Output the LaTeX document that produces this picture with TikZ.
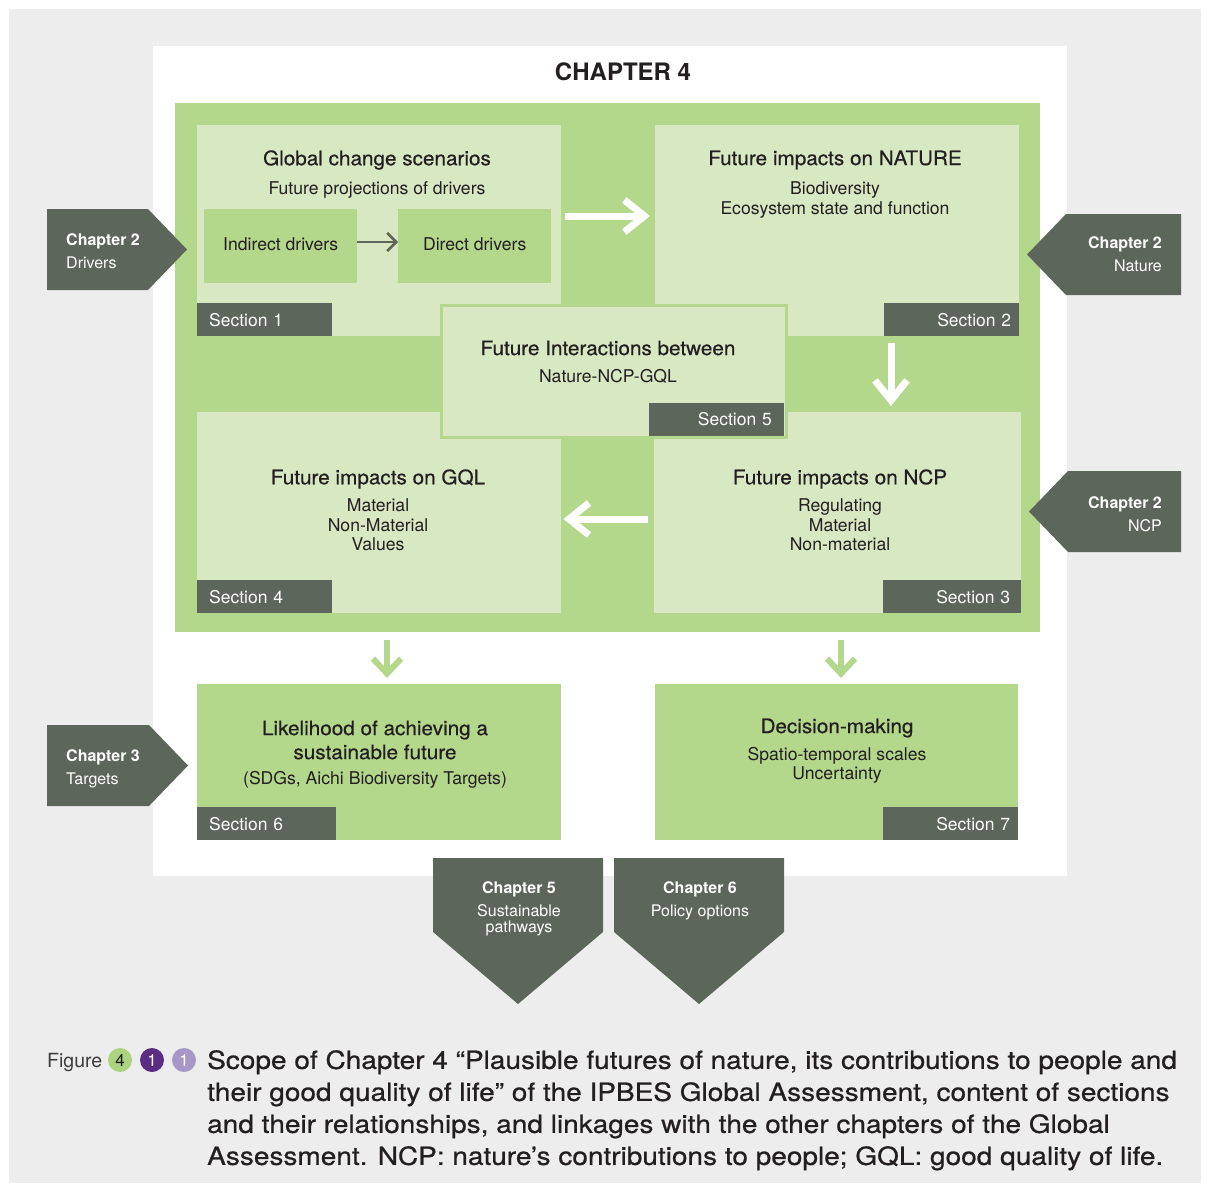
\documentclass[tikz,border=0pt]{standalone}
\usepackage{fontspec}
\setmainfont{TeX Gyre Heros}
\newfontfamily\titlefont[FakeStretch=1.035, FakeBold=0.5]{TeX Gyre Heros}
\newfontfamily\capfont[FakeStretch=1.12, FakeBold=0.7]{TeX Gyre Heros}
\usetikzlibrary{arrows.meta, positioning, calc}
\definecolor{bggray}{RGB}{237,237,237}
\definecolor{midgreen}{RGB}{179,215,139}
\definecolor{lightgreen}{RGB}{216,232,195}
\definecolor{slate}{RGB}{93,102,90}
\definecolor{ink}{RGB}{35,31,32}
\definecolor{figgray}{RGB}{60,60,60}
\definecolor{figgreen}{RGB}{172,212,128}
\definecolor{purpledark}{RGB}{91,44,131}
\definecolor{lavender}{RGB}{167,151,199}
\tikzset{
  secbox/.style={rectangle, fill=lightgreen, inner sep=0pt, anchor=north west},
  outbox/.style={rectangle, fill=midgreen, inner sep=0pt, anchor=north west},
  seclabel/.style={rectangle, fill=slate, text=white, inner sep=0pt,
    minimum height=33pt, font=\fontsize{17.5}{20}\selectfont},
  boxtitle/.style={text=ink, font=\titlefont\fontsize{20}{24}\selectfont, align=center, inner sep=0pt},
  boxtext/.style={text=ink, font=\fontsize{17.6}{19.5}\selectfont, align=center, inner sep=0pt},
  chaptag/.style={fill=slate},
  chaptext/.style={text=white, font=\fontsize{16}{23.5}\selectfont, inner sep=0pt},
  whitearrow/.style={-{Straight Barb[length=20pt,width=32pt]}, white, line width=7pt},
  greenarrow/.style={-{Straight Barb[length=15pt,width=28pt]}, midgreen, line width=6pt},
  smallarrow/.style={-{Straight Barb[length=9pt,width=18pt]}, slate, line width=2.5pt},
  dot/.style={circle, minimum size=24pt, inner sep=0pt, font=\fontsize{17}{20}\selectfont}
}
\begin{document}
\begin{tikzpicture}[x=1pt, y=-1pt]
  % --- page and panels ---
  \fill[white] (0,0) rectangle (1210,1191);
  \useasboundingbox (0,0) rectangle (1210,1191);
  \node[fill=bggray, inner sep=0pt, minimum width=1192pt, minimum height=1174pt, anchor=north west] (bg) at (9,9) {};
  \node[fill=white, inner sep=0pt, minimum width=914pt, minimum height=830pt, anchor=north west] (panel) at (153,46) {};
  \node[text=ink, font=\bfseries\fontsize{24}{26}\selectfont, inner sep=0pt] (chap4) at (623,72) {CHAPTER 4};
  \node[outbox, minimum width=865pt, minimum height=529pt] (main) at (175,103) {};

  % --- section 1 ---
  \node[secbox, minimum width=364pt, minimum height=211pt] (s1) at (197,125) {};
  \node[boxtitle] (s1title) at (377,160) {Global change scenarios};
  \node[boxtext] (s1text) at (377,190) {Future projections of drivers};
  \node[outbox, minimum width=153pt, minimum height=74pt, font=\fontsize{17.6}{20}\selectfont, text=ink] (ind) at (204,209) {\raisebox{4pt}{Indirect drivers}};
  \node[outbox, minimum width=153pt, minimum height=74pt, font=\fontsize{17.6}{20}\selectfont, text=ink] (dir) at (398,209) {\raisebox{4pt}{Direct drivers}};
  \draw[smallarrow] (ind.east |- 0,242) -- (dir.west |- 0,242);
  \node[seclabel, minimum width=135pt, text width=111pt, align=left, anchor=south west] (s1lab) at (s1.south west) {Section 1};

  % --- section 2 ---
  \node[secbox, minimum width=364pt, minimum height=211pt] (s2) at (655,125) {};
  \node[boxtitle] (s2title) at (835,160) {Future impacts on NATURE};
  \node[boxtext] (s2text) at (835,200) {Biodiversity\\Ecosystem state and function};
  \node[seclabel, minimum width=135pt, text width=119pt, align=right, anchor=south east] (s2lab) at (s2.south east) {Section 2};

  % --- section 4 ---
  \node[secbox, minimum width=364pt, minimum height=201pt] (s4) at (197,412) {};
  \node[boxtitle] (s4title) at (378,479) {Future impacts on GQL};
  \node[boxtext] (s4text) at (378,525) {Material\\Non-Material\\Values};
  \node[seclabel, minimum width=135pt, text width=111pt, align=left, anchor=south west] (s4lab) at (s4.south west) {Section 4};

  % --- section 3 ---
  \node[secbox, minimum width=367pt, minimum height=201pt] (s3) at (654,412) {};
  \node[boxtitle] (s3title) at (840,479) {Future impacts on NCP};
  \node[boxtext] (s3text) at (840,525) {Regulating\\Material\\Non-material};
  \node[seclabel, minimum width=138pt, text width=116pt, align=right, anchor=south east] (s3lab) at (s3.south east) {Section 3};

  % --- section 5 (on top) ---
  \node[rectangle, fill=lightgreen, draw=midgreen, line width=2.5pt, inner sep=0pt, minimum width=345pt, minimum height=132pt, anchor=north west] (s5) at (440.25,304.25) {};
  \node[boxtitle] (s5title) at (608,348) {Future Interactions between};
  \node[boxtext] (s5text) at (608,376) {Nature-NCP-GQL};
  \node[seclabel, minimum width=135pt, text width=111pt, align=right, anchor=south east] (s5lab) at (784,436) {Section 5};

  % --- arrows between sections ---
  \draw[whitearrow, shorten <=4pt, shorten >=5pt] (s1.east |- 0,216) -- (s2.west |- 0,216);
  \draw[whitearrow, shorten <=7pt, shorten >=6pt] (s2.south -| 891,0) -- (s3.north -| 891,0);
  \draw[whitearrow, shorten <=6pt, shorten >=2pt] (s3.west |- 0,519) -- (s4.east |- 0,519);

  % --- sections 6 and 7 ---
  \node[outbox, minimum width=364pt, minimum height=156pt] (s6) at (197,684) {};
  \node[boxtitle] (s6title) at (375,740) {Likelihood of achieving a\\sustainable future};
  \node[boxtext] (s6text) at (375,780) {(SDGs, Aichi Biodiversity Targets)};
  \node[seclabel, minimum width=139pt, text width=115pt, align=left, anchor=south west] (s6lab) at (s6.south west) {Section 6};

  \node[outbox, minimum width=363pt, minimum height=156pt] (s7) at (655,684) {};
  \node[boxtitle] (s7title) at (837,728) {Decision-making};
  \node[boxtext] (s7text) at (837,765.5) {Spatio-temporal scales\\Uncertainty};
  \node[seclabel, minimum width=135pt, text width=119pt, align=right, anchor=south east] (s7lab) at (s7.south east) {Section 7};

  \draw[greenarrow, shorten <=8pt, shorten >=6pt] (main.south -| 387,0) -- (s6.north -| 387,0);
  \draw[greenarrow, shorten <=8pt, shorten >=6pt] (main.south -| 841,0) -- (s7.north -| 841,0);

  % --- linked chapters ---
  \fill[chaptag] (47,209) -- (148,209) -- (187,249.5) -- (148,290) -- (47,290) -- cycle;
  \node[chaptext, align=left, anchor=west] (ch2drv) at (66,251) {\textbf{Chapter 2}\\Drivers};
  \fill[chaptag] (1181,214) -- (1066,214) -- (1027,254.5) -- (1066,295) -- (1181,295) -- cycle;
  \node[chaptext, align=right, anchor=east] (ch2nat) at (1162,254) {\textbf{Chapter 2}\\Nature};
  \fill[chaptag] (1181,471) -- (1068,471) -- (1029,511.5) -- (1068,552) -- (1181,552) -- cycle;
  \node[chaptext, align=right, anchor=east] (ch2ncp) at (1162,514) {\textbf{Chapter 2}\\NCP};
  \fill[chaptag] (47,725) -- (149,725) -- (188,765.5) -- (149,806) -- (47,806) -- cycle;
  \node[chaptext, align=left, anchor=west] (ch3tgt) at (66,769) {\textbf{Chapter 3}\\Targets};

  \fill[chaptag] (433,858) -- (603,858) -- (603,932) -- (518,1004) -- (433,932) -- cycle;
  \node[chaptext, font=\bfseries\fontsize{16}{19}\selectfont] (ch5) at (519,889.5) {Chapter 5};
  \node[chaptext, align=center, font=\fontsize{16}{16}\selectfont] (ch5text) at (519,920) {Sustainable\\pathways};
  \fill[chaptag] (614,858) -- (784,858) -- (784,932) -- (699,1004) -- (614,932) -- cycle;
  \node[chaptext, font=\bfseries\fontsize{16}{19}\selectfont] (ch6) at (700,889.5) {Chapter 6};
  \node[chaptext, font=\fontsize{16}{19}\selectfont] (ch6text) at (700,912) {Policy options};

  % --- caption ---
  \node[text=figgray, font=\fontsize{19.5}{22}\selectfont, inner sep=0pt, anchor=base west] (figword) at (47,1067) {Figure};
  \node[dot, fill=figgreen, text=ink] (dot1) at (120,1060) {4};
  \node[dot, fill=purpledark, text=white] (dot2) at (152,1060) {1};
  \node[dot, fill=lavender, text=white] (dot3) at (184,1060) {1};
  \node[text=ink, font=\capfont\fontsize{25}{32}\selectfont, align=left, inner sep=0pt, anchor=north west] (caption) at (207,1050)
    {Scope of Chapter 4 “Plausible futures of nature, its contributions to people and\\
     their good quality of life” of the IPBES Global Assessment, content of sections\\
     and their relationships, and linkages with the other chapters of the Global\\
     Assessment. NCP: nature’s contributions to people; GQL: good quality of life.};
\end{tikzpicture}
\end{document}
